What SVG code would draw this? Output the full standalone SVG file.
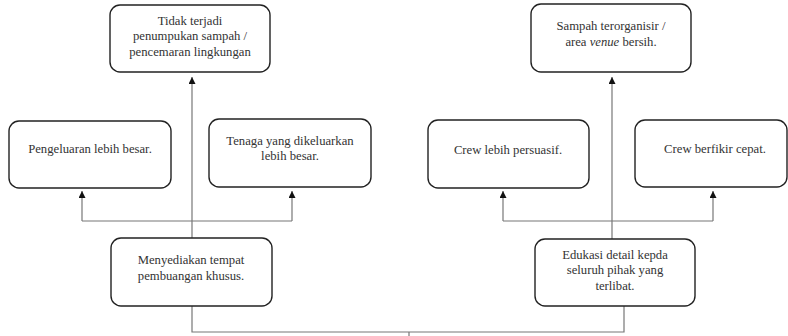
<svg xmlns="http://www.w3.org/2000/svg" width="788" height="336" viewBox="0 0 788 336">
<defs>
<marker id="ah" viewBox="0 0 10 10" refX="10" refY="5" markerWidth="7" markerHeight="7" markerUnits="userSpaceOnUse" orient="auto">
<path d="M0,0 L10,5 L0,10 z" fill="#111"/>
</marker>
<style>
.box{fill:#fff;stroke:#222;stroke-width:1.4}
.t{font-family:"Liberation Serif","Times New Roman",serif;font-size:12.7px;fill:#333;text-anchor:middle}
.c{fill:none;stroke:#777;stroke-width:1.2}
</style>
</defs>
<rect width="788" height="336" fill="#fff"/>
<g id="connectors">
<path class="c" d="M192,238 L192,77" marker-end="url(#ah)"/>
<path class="c" d="M82,221 L82,191" marker-end="url(#ah)"/>
<path class="c" d="M292,221 L292,191" marker-end="url(#ah)"/>
<path class="c" d="M82,221 L292,221"/>
<path class="c" d="M612,239 L612,77" marker-end="url(#ah)"/>
<path class="c" d="M503,221 L503,191" marker-end="url(#ah)"/>
<path class="c" d="M713,221 L713,191" marker-end="url(#ah)"/>
<path class="c" d="M503,221 L713,221"/>
<path class="c" d="M192,306 L192,332 L624,332 L624,306"/>
<path class="c" d="M409,332 L409,336"/>
</g>
<g id="n1">
<rect class="box" x="110" y="5" width="160" height="67" rx="10"/>
<text class="t" x="190" y="25">Tidak terjadi</text>
<text class="t" x="190" y="40">penumpukan sampah /</text>
<text class="t" x="190" y="56">pencemaran lingkungan</text>
</g>
<g id="n2">
<rect class="box" x="9" y="121" width="162" height="67" rx="10"/>
<text class="t" x="90" y="153">Pengeluaran lebih besar.</text>
</g>
<g id="n3">
<rect class="box" x="209" y="119" width="162" height="68" rx="10"/>
<text class="t" x="290" y="145">Tenaga yang dikeluarkan</text>
<text class="t" x="290" y="160">lebih besar.</text>
</g>
<g id="n4">
<rect class="box" x="111" y="238" width="161" height="68" rx="10"/>
<text class="t" x="191" y="264">Menyediakan tempat</text>
<text class="t" x="191" y="280">pembuangan khusus.</text>
</g>
<g id="n5">
<rect class="box" x="531" y="4" width="160" height="68" rx="10"/>
<text class="t" x="611" y="30">Sampah terorganisir /</text>
<text class="t" x="611" y="46">area <tspan font-style="italic">venue</tspan> bersih.</text>
</g>
<g id="n6">
<rect class="box" x="428" y="120" width="161" height="68" rx="10"/>
<text class="t" x="508" y="154">Crew lebih persuasif.</text>
</g>
<g id="n7">
<rect class="box" x="635" y="120" width="152" height="67" rx="10"/>
<text class="t" x="715" y="153">Crew berfikir cepat.</text>
</g>
<g id="n8">
<rect class="box" x="535" y="239" width="160" height="67" rx="10"/>
<text class="t" x="615" y="259">Edukasi detail kepda</text>
<text class="t" x="615" y="274">seluruh pihak yang</text>
<text class="t" x="615" y="290">terlibat.</text>
</g>
</svg>
